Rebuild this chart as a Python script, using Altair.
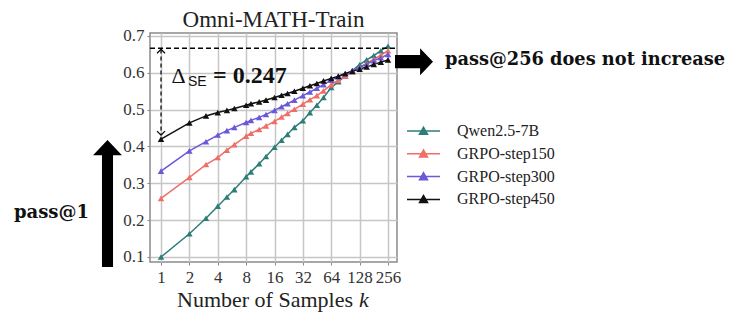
import altair as alt
import pandas as pd

k_values = [1, 2, 3, 4, 5, 6, 8, 9, 11, 13, 16, 19, 22, 26, 32, 38, 45, 53, 64, 76, 90, 107, 128, 152, 181, 215, 256]
series_names = ["Qwen2.5-7B", "GRPO-step150", "GRPO-step300", "GRPO-step450"]
series_colors = ["#2e7d78", "#f06e68", "#6a58d8", "#111111"]

qwen = [0.100, 0.163, 0.205, 0.238, 0.263, 0.283, 0.318, 0.331, 0.353, 0.373, 0.398, 0.417, 0.433, 0.452,
        0.470, 0.492, 0.512, 0.533, 0.560, 0.576, 0.591, 0.606, 0.622, 0.635, 0.647, 0.660, 0.672]
step150 = [0.259, 0.316, 0.351, 0.370, 0.390, 0.405, 0.428, 0.436, 0.446, 0.456, 0.468, 0.480, 0.490, 0.501,
           0.515, 0.527, 0.538, 0.551, 0.568, 0.580, 0.591, 0.603, 0.615, 0.626, 0.637, 0.648, 0.660]
step300 = [0.333, 0.388, 0.413, 0.431, 0.443, 0.452, 0.465, 0.471, 0.479, 0.487, 0.498, 0.508, 0.516, 0.526,
           0.538, 0.548, 0.558, 0.568, 0.580, 0.589, 0.597, 0.606, 0.615, 0.624, 0.633, 0.641, 0.650]
step450 = [0.420, 0.464, 0.483, 0.492, 0.498, 0.503, 0.512, 0.516, 0.521, 0.526, 0.533, 0.539, 0.544, 0.550,
           0.558, 0.565, 0.571, 0.578, 0.585, 0.591, 0.598, 0.604, 0.610, 0.616, 0.623, 0.629, 0.635]

x_ticks = [1, 2, 4, 8, 16, 32, 64, 128, 256]
y_ticks = [0.1, 0.2, 0.3, 0.4, 0.5, 0.6, 0.7]
pass1_best = 0.420
pass256_top = 0.667
delta_label = "= 0.247"

rows = []
for name, vals in zip(series_names, [qwen, step150, step300, step450]):
    for kk, v in zip(k_values, vals):
        rows.append({"k": kk, "pass": v, "model": name})
df = pd.DataFrame(rows)
one = pd.DataFrame({"a": [0]})

SERIF = "Liberation Serif, Times New Roman, Times, serif"
SANS = "Liberation Sans, Arial, Helvetica, sans-serif"
BOLDSERIF = "DejaVu Serif, serif"
W, H = 247, 229

xscale = alt.Scale(type="log", base=2, domain=[0.764, 319], nice=False)
yscale = alt.Scale(domain=[0.0864, 0.7081], nice=False, zero=False)

xaxis = alt.Axis(values=x_ticks, format="d", title=None, labelOverlap=False, labelFlush=False,
                 grid=True, domain=False, tickSize=3, labelPadding=4)
yaxis = alt.Axis(values=y_ticks, format=".1f", title=None, grid=True, domain=False,
                 labelOverlap=False, labelFlush=False, tickSize=3, labelPadding=3)

def X(field=None, datum=None):
    if datum is not None:
        return alt.XDatum(datum, scale=xscale, axis=xaxis)
    return alt.X(field, scale=xscale, axis=xaxis)

def Y(field=None, datum=None):
    if datum is not None:
        return alt.YDatum(datum, scale=yscale, axis=yaxis)
    return alt.Y(field, scale=yscale, axis=yaxis)

sym_path = "M-1.65,0H1.65M-0.4,0.32L0,-0.38L0.4,0.32Z"
leg = alt.Legend(title=None, orient="none", legendX=262.5, legendY=87, symbolType=sym_path,
                 symbolSize=400, symbolStrokeWidth=1.5, labelFont=SERIF, labelFontSize=16,
                 labelColor="#222", labelOffset=22.5, rowPadding=3.8, padding=0)

cscale = alt.Scale(domain=series_names, range=series_colors)

lines = alt.Chart(df).mark_line(strokeWidth=1.5).encode(
    x=X("k:Q"), y=Y("pass:Q"),
    stroke=alt.Stroke("model:N", scale=cscale, legend=leg, sort=series_names),
    order="k:Q",
)
points = alt.Chart(df).mark_point(shape="triangle-up", filled=True, size=42, opacity=1).encode(
    x=X("k:Q"), y=Y("pass:Q"),
    fill=alt.Fill("model:N", scale=cscale, legend=leg, sort=series_names),
)

hdash = alt.Chart(one).mark_rule(color="black", strokeWidth=1.5, strokeDash=[5, 3]).encode(
    x=alt.value(0), x2=alt.value(W), y=Y(datum=pass256_top))
vdash = alt.Chart(one).mark_rule(color="black", strokeWidth=1.2, strokeDash=[4, 3]).encode(
    x=X(datum=1), y=Y(datum=pass256_top - 0.004), y2=alt.Y2Datum(pass1_best + 0.012))
top_head = alt.Chart(one).mark_point(shape="M-1,1L0,0L1,1", filled=False, color="black",
                                     strokeWidth=1.2, size=64, opacity=1).encode(
    x=X(datum=1), y=Y(datum=pass256_top - 0.003))
bot_head = alt.Chart(one).mark_point(shape="M-1,-1L0,0L1,-1", filled=False, color="black",
                                     strokeWidth=1.2, size=64, opacity=1).encode(
    x=X(datum=1), y=Y(datum=pass1_best + 0.011))

def txt(s, x, y, size, font=SERIF, weight="normal", style="normal", align="left", baseline="alphabetic",
        color="#222"):
    return alt.Chart(one).mark_text(text=s, font=font, fontSize=size, fontWeight=weight, fontStyle=style,
                                    align=align, baseline=baseline, color=color).encode(
        x=alt.value(x), y=alt.value(y))

title = txt("Omni-MATH-Train", W / 2, -6.3, 23, align="center")
delta = txt("Δ", 21.5, 50.3, 22, color="#111")
se = txt("SE", 38, 53, 14, font=SANS, color="#111")
dval = txt(delta_label, 63, 50.3, 24, weight="bold", color="#111")

xtitle = txt("Number of Samples", 27, 273.7, 22)
xk = txt("k", 209, 273.7, 22, style="italic")

right_arrow = alt.Chart(one).mark_point(
    shape="M-1,-0.35L0.32,-0.35L0.32,-0.71L1,0L0.32,0.71L0.32,0.35L-1,0.35Z",
    filled=True, color="black", size=1444, opacity=1, strokeWidth=0).encode(
    x=alt.value(264), y=alt.value(28.7))
up_arrow = alt.Chart(one).mark_point(
    shape="M0,-1L0.228,-0.76L0.087,-0.76L0.087,1L-0.087,1L-0.087,-0.76L-0.228,-0.76Z",
    filled=True, color="black", size=16129, opacity=1, strokeWidth=0).encode(
    x=alt.value(-42.5), y=alt.value(170.5))

right_text = txt("pass@256 does not increase", 295, 27, 17.8, font=BOLDSERIF, weight="bold",
                 baseline="middle", color="#111")
left_text = txt("pass@1", -98.5, 180, 18, font=BOLDSERIF, weight="bold", align="center",
                baseline="middle", color="#111")

chart = alt.layer(
    lines, points, hdash, vdash, top_head, bot_head, title, delta, se, dval, xtitle, xk,
    right_arrow, up_arrow, right_text, left_text
).properties(
    width=W, height=H,
    padding={"left": 142, "top": 25, "right": 330, "bottom": 51},
    autosize=alt.AutoSizeParams(type="none"),
).configure_view(
    stroke="#8a8a8a", strokeWidth=1.5
).configure_axis(
    labelFont=SERIF, labelFontSize=17, labelColor="#333", gridColor="#c6c6c6", gridWidth=1.5,
    tickColor="#888", labelOverlap=False, labelFlush=False
)

chart.save("out.html", embed_options={"renderer": "svg", "actions": False})
